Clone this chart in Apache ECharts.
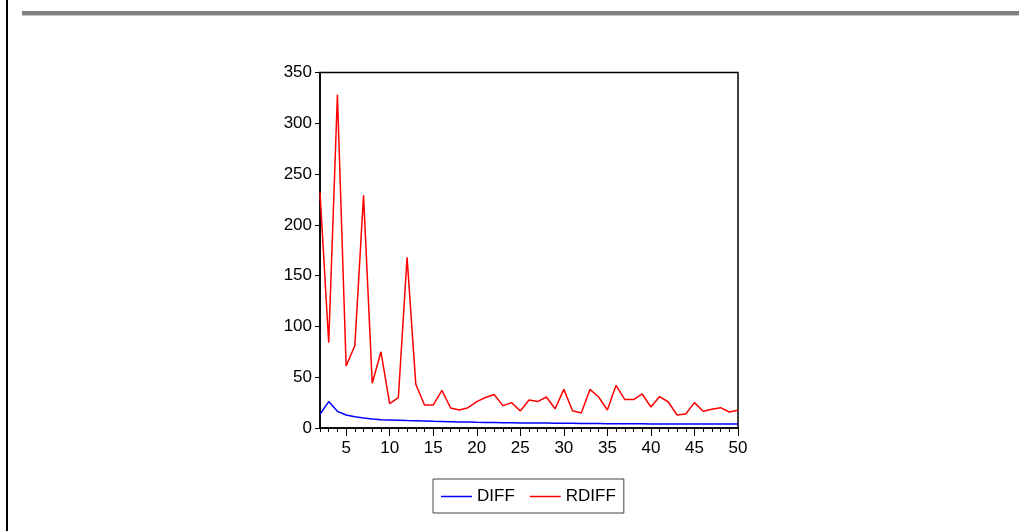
<!DOCTYPE html>
<html>
<head>
<meta charset="utf-8">
<script src="https://cdn.jsdelivr.net/npm/echarts@6/dist/echarts.min.js"></script>
<style>
html,body{margin:0;padding:0;background:#fff;}
#c{width:1022px;height:531px;}
</style>
</head>
<body>
<div id="c"></div>
<script>
const lags = [2,3,4,5,6,7,8,9,10,11,12,13,14,15,16,17,18,19,20,21,22,23,24,25,26,27,28,29,30,31,32,33,34,35,36,37,38,39,40,41,42,43,44,45,46,47,48,49,50];
const diff = [13.5,26,16.4,12.8,11,9.8,8.9,8.2,7.9,7.6,7.3,7.1,6.9,6.6,6.4,6.2,6.0,5.8,5.6,5.5,5.4,5.2,5.1,4.9,4.9,4.8,4.8,4.7,4.6,4.6,4.5,4.5,4.4,4.3,4.3,4.3,4.2,4.2,4.0,4.0,4.0,4.0,4.0,4.0,4.0,4.0,4.0,4.0,4.0];
const rdiff = [232,84,328,61,81,229,44,75,24,30,168,43,22.6,22.6,37,19.7,17.7,20,26,30,33,22,25,16.7,27.6,26,30.5,19,38,17,14.8,38,30.5,17.7,42,28,28,33.5,20.7,31,25.6,12.8,13.8,25,16.4,18.4,20,15.8,17.4];
const xTickLabels = [5,10,15,20,25,30,35,40,45,50];
const yTicks = [0,50,100,150,200,250,300,350];
const seriesNames = ['DIFF','RDIFF'];

const font = 'Liberation Sans, Arial, sans-serif';
const chart = echarts.init(document.getElementById('c'), null, {renderer:'canvas'});
chart.setOption({
  animation:false,
  backgroundColor:'#fff',
  grid:{left:320,right:284,top:72.5,bottom:103,show:true,borderColor:'#000',borderWidth:1.5,backgroundColor:'transparent'},
  legend:{
    data:seriesNames,
    left:433, top:479,
    orient:'horizontal',
    borderColor:'#444', borderWidth:1,
    padding:[9,8,8,8],
    icon:'rect',
    itemWidth:31, itemHeight:1.5, itemGap:15,
    textStyle:{fontFamily:font,fontSize:17,color:'#000'}
  },
  xAxis:[{
    type:'value', min:2, max:50, interval:1,
    axisLine:{show:true,lineStyle:{color:'#000',width:1.5}},
    axisTick:{show:true,inside:false,length:4,lineStyle:{color:'#000',width:1}},
    axisLabel:{show:false},
    splitLine:{show:false}
  },{
    type:'value', min:2, max:50, position:'bottom',
    axisLine:{show:false},
    axisTick:{show:true,inside:false,length:8,customValues:xTickLabels,lineStyle:{color:'#000',width:1}},
    axisLabel:{show:true,customValues:xTickLabels,fontFamily:font,fontSize:17,color:'#000',margin:12},
    splitLine:{show:false}
  }],
  yAxis:{
    type:'value', min:0, max:350, interval:50,
    axisLine:{show:true,lineStyle:{color:'#000',width:1.5}},
    axisTick:{show:true,inside:false,length:5,lineStyle:{color:'#000',width:1}},
    axisLabel:{fontFamily:font,fontSize:17,color:'#000',margin:8,
      customValues:yTicks},
    splitLine:{show:false}
  },
  series:[{
    name:seriesNames[0], type:'line', xAxisIndex:0,
    data:lags.map((x,i)=>[x,diff[i]]),
    symbol:'none', lineStyle:{color:'#0000ff',width:1.5}, itemStyle:{color:'#0000ff'}
  },{
    name:seriesNames[1], type:'line', xAxisIndex:0,
    data:lags.map((x,i)=>[x,rdiff[i]]),
    symbol:'none', lineStyle:{color:'#ff0000',width:1.5}, itemStyle:{color:'#ff0000'}
  }],
  graphic:[
    {type:'rect',shape:{x:6,y:0,width:2,height:531},style:{fill:'#000'},silent:true},
    {type:'rect',shape:{x:22,y:11,width:997,height:4},style:{fill:'#808080'},silent:true},
    {type:'rect',shape:{x:22,y:15,width:997,height:1},style:{fill:'#c8c8c8'},silent:true}
  ]
});
</script>
</body>
</html>
